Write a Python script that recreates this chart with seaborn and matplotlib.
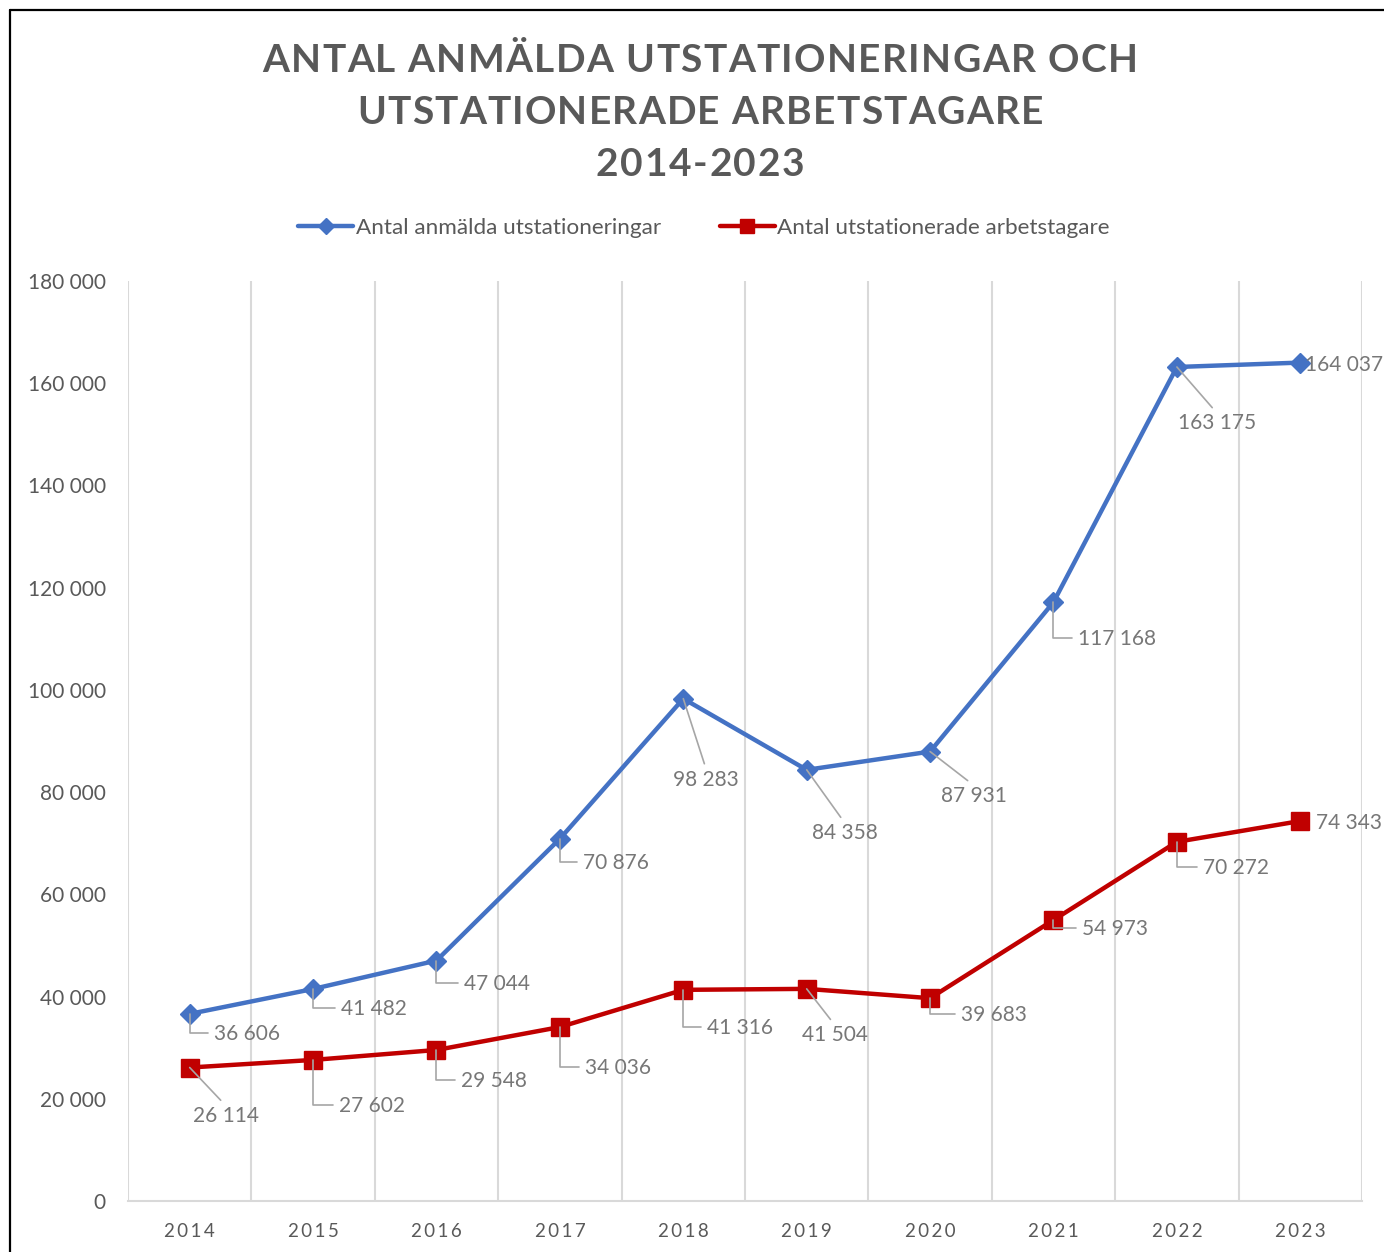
import numpy as np
import pandas as pd
import matplotlib
matplotlib.use("Agg")
import matplotlib.pyplot as plt
from matplotlib.lines import Line2D
from matplotlib.font_manager import FontProperties, findfont, get_font
import seaborn as sns

# ---------------- data ----------------
years = ["2014", "2015", "2016", "2017", "2018", "2019", "2020", "2021", "2022", "2023"]
anmalda = [36606, 41482, 47044, 70876, 98283, 84358, 87931, 117168, 163175, 164037]
arbetstagare = [26114, 27602, 29548, 34036, 41316, 41504, 39683, 54973, 70272, 74343]
series_names = ["Antal anmälda utstationeringar", "Antal utstationerade arbetstagare"]
title_lines = ["ANTAL ANMÄLDA UTSTATIONERINGAR OCH", "UTSTATIONERADE ARBETSTAGARE", "2014-2023"]
y_ticks = [0, 20000, 40000, 60000, 80000, 100000, 120000, 140000, 160000, 180000]

# ---------------- label layout (pixel offsets, style) ----------------
blue_lbl = [(24, -20, "elbow"), (28, -20, "elbow"), (28, -23, "elbow"), (23, -24, "elbow"),
            (23, -81, "diag"), (38, -63, "diag"), (44, -44, "diag"), (25, -37, "elbow"),
            (40, -56, "diag"), (5, -2, "none")]
red_lbl = [(36, -48, "diag"), (26, -46, "elbow"), (25, -31, "elbow"), (25, -41, "elbow"),
           (24, -38, "elbow"), (28, -46, "diag"), (31, -17, "elbow"), (29, -9, "elbow"),
           (26, -26, "elbow"), (16, -2, "none")]

BLUE = "#4472C4"
RED = "#C00000"
TXT = "#595959"
LBL = "#777777"
LEAD = "#A6A6A6"
GRID = "#D9D9D9"

W, H = 1384, 1252
sns.set_style("white")
plt.rcParams["font.family"] = ["Lato", "DejaVu Sans"]

fig = plt.figure(figsize=(W / 100, H / 100), dpi=100)
fig.patch.set_facecolor("white")

ax = fig.add_axes([128 / W, 1 - 1201 / H, (1362 - 128) / W, (1201 - 281) / H])

df = pd.DataFrame({"pos": np.arange(len(years)), "year": years,
                   "anm": anmalda, "arb": arbetstagare})

sns.lineplot(data=df, x="pos", y="anm", ax=ax, color=BLUE, lw=3.2, marker="D",
             markersize=10, markeredgecolor=BLUE, markerfacecolor=BLUE,
             markeredgewidth=1, label=series_names[0], zorder=3)
sns.lineplot(data=df, x="pos", y="arb", ax=ax, color=RED, lw=3.2, marker="s",
             markersize=12.5, markeredgecolor=RED, markerfacecolor=RED,
             markeredgewidth=1, label=series_names[1], zorder=3)

ax.set_xlim(-0.5, len(years) - 0.5)
ax.set_ylim(0, 180000)
ax.set_xticks(np.arange(len(years)))
ax.set_xticklabels(["\u2009".join(y) for y in years])
ax.set_xticks(np.arange(-0.5, len(years), 1), minor=True)
ax.set_yticks(y_ticks)
ax.set_yticklabels([f"{v:,}".replace(",", " ") for v in y_ticks])
ax.set_xlabel("")
ax.set_ylabel("")
ax.grid(False)
ax.grid(which="minor", axis="x", color=GRID, lw=1.5)
ax.tick_params(axis="x", which="both", length=0, pad=16, labelsize=13.5, labelcolor=TXT)
ax.tick_params(axis="y", length=0, pad=16, labelsize=15, labelcolor=TXT)
for s in ["top", "right", "left"]:
    ax.spines[s].set_visible(False)
ax.spines["bottom"].set_color(GRID)
ax.spines["bottom"].set_linewidth(1.5)

handles, labels = ax.get_legend_handles_labels()
if ax.get_legend() is not None:
    ax.get_legend().remove()


def add_labels(vals, specs):
    for i, (v, (dx, dy, kind)) in enumerate(zip(vals, specs)):
        txt = f"{v:,}".replace(",", " ")
        common = dict(xy=(i, v), xytext=(dx, dy), textcoords="offset pixels",
                      fontsize=15, color=LBL, annotation_clip=False, zorder=5)
        if kind == "none":
            ax.annotate(txt, ha="left", va="center", **common)
        elif kind == "elbow":
            ax.annotate(txt, ha="left", va="center",
                        arrowprops=dict(arrowstyle="-", color=LEAD, lw=1.2, shrinkA=2, shrinkB=0,
                                        relpos=(0, 0.55),
                                        connectionstyle="angle,angleA=0,angleB=90,rad=0"),
                        **common)
        else:
            ax.annotate(txt, ha="center", va="center",
                        arrowprops=dict(arrowstyle="-", color=LEAD, lw=1.2, shrinkA=2, shrinkB=0,
                                        relpos=(0.5, 1), connectionstyle="arc3"),
                        **common)


add_labels(anmalda, blue_lbl)
add_labels(arbetstagare, red_lbl)

leg = fig.legend(handles, labels, loc="center", bbox_to_anchor=(704 / W, 1 - 228 / H), ncol=2,
                 frameon=False, fontsize=16.2, handlelength=2.45, handletextpad=0.12,
                 columnspacing=2.6, labelcolor=TXT)
for lh in leg.legend_handles:
    lh.set_markersize(8 if lh.get_marker() == "D" else 10)


def draw_tracked(s, cx, base, size, target_w, color=TXT):
    prop = FontProperties(family=["Lato", "DejaVu Sans"], weight="bold", size=size)
    font = get_font(findfont(prop))
    font.set_size(size, fig.dpi)
    adv = [font.load_char(ord(ch)).linearHoriAdvance / 65536 for ch in s]
    track = (target_w - sum(adv)) / (len(s) - 1)
    x = cx - target_w / 2
    for ch, a in zip(s, adv):
        if ch != " ":
            fig.text(x / W, 1 - base / H, ch, fontproperties=prop, color=color,
                     ha="left", va="baseline")
        x += a + track


draw_tracked(title_lines[0], 700, 72, 28, 875)
draw_tracked(title_lines[1], 700, 124, 28, 686)
draw_tracked(title_lines[2], 700, 176, 28, 209)

# outer chart frame (left and top edges visible)
fig.add_artist(Line2D([10 / W, 10 / W], [0, 1 - 10 / H], color="black", lw=1.6,
                      transform=fig.transFigure))
fig.add_artist(Line2D([10 / W, 1], [1 - 10 / H, 1 - 10 / H], color="black", lw=1.6,
                      transform=fig.transFigure))

fig.savefig("out.png", dpi=100, facecolor="white")
